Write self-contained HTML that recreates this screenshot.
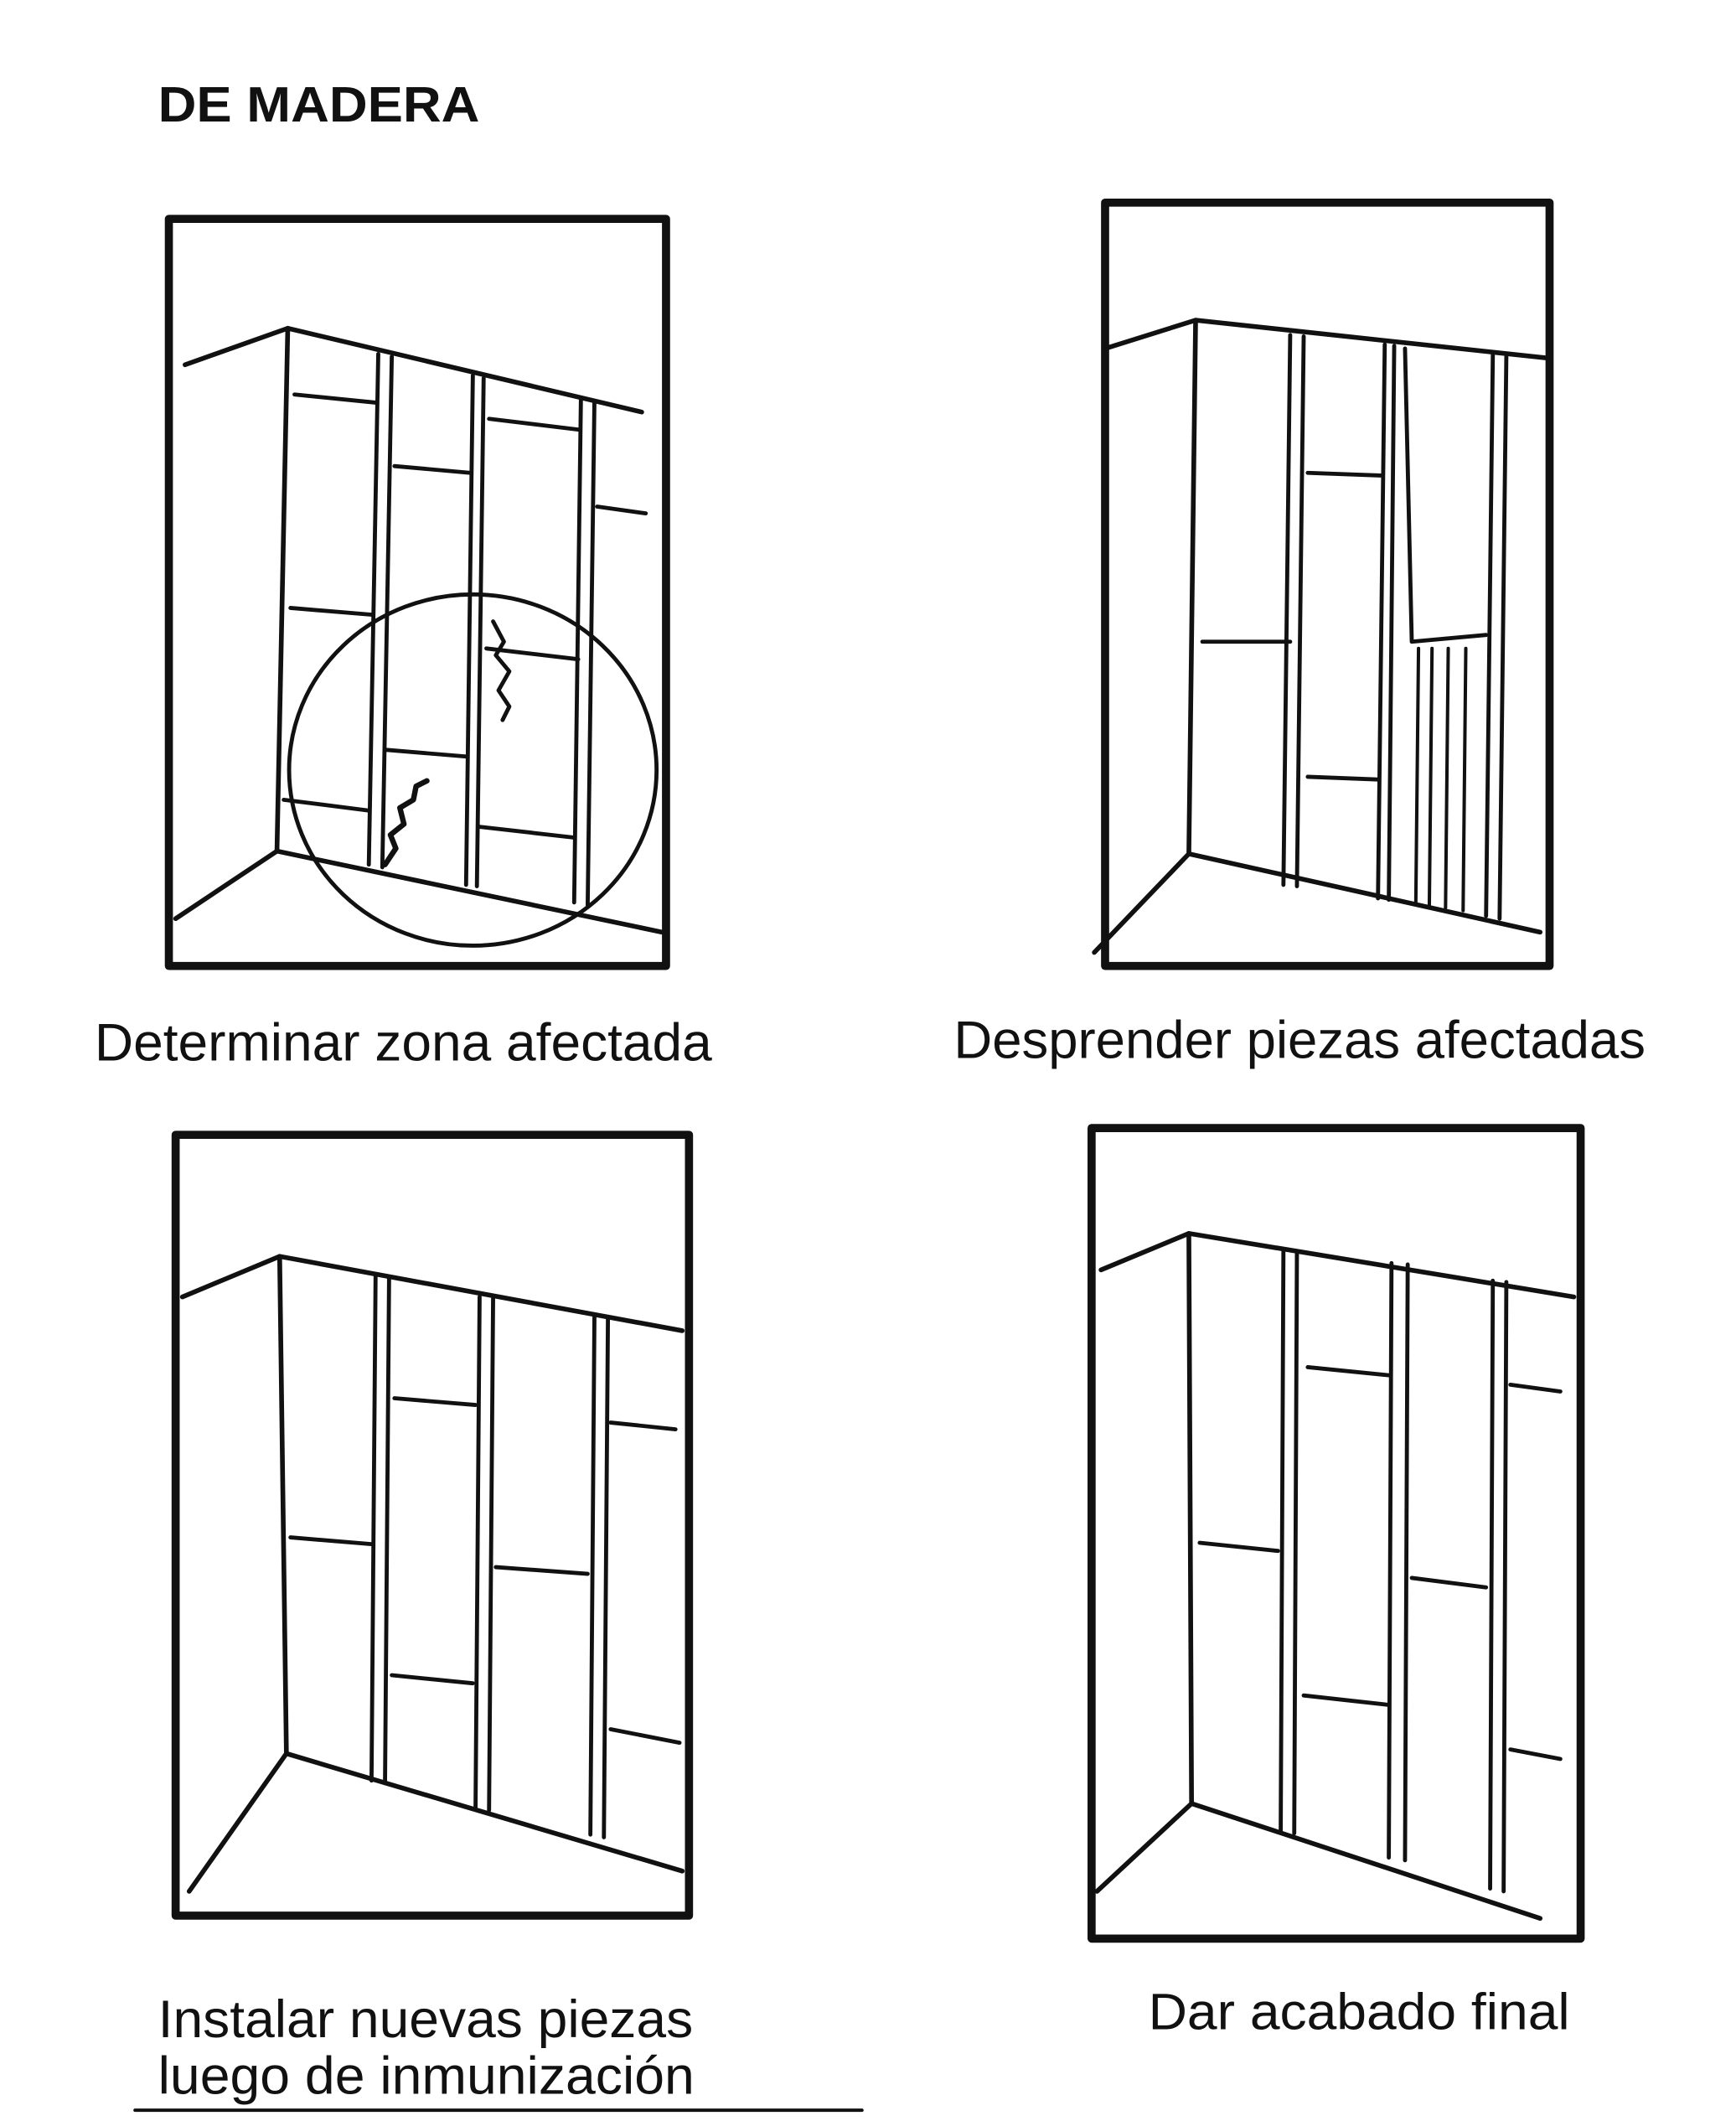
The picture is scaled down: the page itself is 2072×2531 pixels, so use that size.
<!DOCTYPE html>
<html><head><meta charset="utf-8"><style>
html,body{margin:0;padding:0;background:#fff;}
svg{display:block;}
text{font-family:"Liberation Sans",sans-serif;fill:#111;}
</style></head><body>
<svg width="2072" height="2531" viewBox="0 0 1285 1570" preserveAspectRatio="none" xmlns="http://www.w3.org/2000/svg">
<g stroke="#111" fill="none" stroke-linecap="round" stroke-linejoin="round">
<!-- Panel 1 -->
<rect x="125" y="162" width="368" height="553" stroke-width="6"/>
<polyline points="137,270 213,243 475,305" stroke-width="3.5"/>
<line x1="213" y1="243" x2="205" y2="630" stroke-width="3.5"/>
<polyline points="130,680 205,630 490,690" stroke-width="3.5"/>
<line x1="280" y1="262" x2="273" y2="640" stroke-width="3"/>
<line x1="290" y1="264" x2="283" y2="642" stroke-width="3"/>
<line x1="350" y1="278" x2="345" y2="655" stroke-width="3"/>
<line x1="358" y1="280" x2="353" y2="656" stroke-width="3"/>
<line x1="430" y1="295" x2="425" y2="668" stroke-width="3"/>
<line x1="440" y1="297" x2="435" y2="670" stroke-width="3"/>
<line x1="218" y1="292" x2="278" y2="298" stroke-width="3"/>
<line x1="292" y1="345" x2="348" y2="350" stroke-width="3"/>
<line x1="362" y1="310" x2="428" y2="318" stroke-width="3"/>
<line x1="442" y1="375" x2="478" y2="380" stroke-width="3"/>
<line x1="215" y1="450" x2="275" y2="455" stroke-width="3"/>
<line x1="285" y1="555" x2="345" y2="560" stroke-width="3"/>
<line x1="360" y1="480" x2="428" y2="488" stroke-width="3"/>
<line x1="210" y1="592" x2="273" y2="600" stroke-width="3"/>
<line x1="355" y1="612" x2="425" y2="620" stroke-width="3"/>
<ellipse cx="350" cy="570" rx="136" ry="130" stroke-width="3"/>
<path d="M365,460 l8,15 -6,10 10,12 -8,14 8,12 -5,10" stroke-width="3"/>
<path d="M285,640 l8,-12 -4,-10 10,-8 -3,-12 10,-6 2,-10 8,-4" stroke-width="4"/>
<!-- Panel 2 -->
<rect x="818" y="150" width="329" height="565" stroke-width="6"/>
<polyline points="818,258 885,237 1145,265" stroke-width="3.5"/>
<line x1="885" y1="237" x2="880" y2="632" stroke-width="3.5"/>
<polyline points="810,705 880,632 1140,690" stroke-width="3.5"/>
<line x1="955" y1="248" x2="950" y2="655" stroke-width="3"/>
<line x1="965" y1="249" x2="960" y2="656" stroke-width="3"/>
<line x1="1025" y1="255" x2="1020" y2="665" stroke-width="3"/>
<line x1="1032" y1="256" x2="1028" y2="666" stroke-width="3"/>
<line x1="1105" y1="263" x2="1100" y2="678" stroke-width="3"/>
<line x1="1115" y1="264" x2="1110" y2="680" stroke-width="3"/>
<line x1="890" y1="475" x2="955" y2="475" stroke-width="3"/>
<line x1="968" y1="350" x2="1022" y2="352" stroke-width="3"/>
<line x1="968" y1="575" x2="1020" y2="577" stroke-width="3"/>
<polyline points="1040,258 1045,475 1100,470" stroke-width="3"/>
<line x1="1050" y1="480" x2="1048" y2="668" stroke-width="2.5"/>
<line x1="1060" y1="480" x2="1058" y2="670" stroke-width="2.5"/>
<line x1="1072" y1="480" x2="1070" y2="672" stroke-width="2.5"/>
<line x1="1085" y1="480" x2="1083" y2="674" stroke-width="2.5"/>
<!-- Panel 3 -->
<rect x="130" y="840" width="380" height="578" stroke-width="6"/>
<polyline points="135,960 207,930 505,985" stroke-width="3.5"/>
<line x1="207" y1="930" x2="212" y2="1298" stroke-width="3.5"/>
<polyline points="140,1400 212,1298 505,1385" stroke-width="3.5"/>
<line x1="278" y1="945" x2="275" y2="1318" stroke-width="3"/>
<line x1="288" y1="946" x2="285" y2="1320" stroke-width="3"/>
<line x1="355" y1="960" x2="352" y2="1338" stroke-width="3"/>
<line x1="365" y1="961" x2="362" y2="1340" stroke-width="3"/>
<line x1="440" y1="975" x2="437" y2="1358" stroke-width="3"/>
<line x1="450" y1="976" x2="447" y2="1360" stroke-width="3"/>
<line x1="292" y1="1035" x2="352" y2="1040" stroke-width="3"/>
<line x1="452" y1="1053" x2="500" y2="1058" stroke-width="3"/>
<line x1="215" y1="1138" x2="275" y2="1143" stroke-width="3"/>
<line x1="367" y1="1160" x2="435" y2="1165" stroke-width="3"/>
<line x1="290" y1="1240" x2="350" y2="1246" stroke-width="3"/>
<line x1="452" y1="1280" x2="503" y2="1290" stroke-width="3"/>
<!-- Panel 4 -->
<rect x="808" y="835" width="362" height="600" stroke-width="6"/>
<polyline points="815,940 880,913 1165,960" stroke-width="3.5"/>
<line x1="880" y1="913" x2="882" y2="1335" stroke-width="3.5"/>
<polyline points="812,1400 882,1335 1140,1420" stroke-width="3.5"/>
<line x1="950" y1="925" x2="948" y2="1355" stroke-width="3"/>
<line x1="960" y1="926" x2="958" y2="1357" stroke-width="3"/>
<line x1="1030" y1="935" x2="1028" y2="1375" stroke-width="3"/>
<line x1="1042" y1="936" x2="1040" y2="1377" stroke-width="3"/>
<line x1="1105" y1="948" x2="1103" y2="1398" stroke-width="3"/>
<line x1="1115" y1="949" x2="1113" y2="1400" stroke-width="3"/>
<line x1="968" y1="1012" x2="1028" y2="1018" stroke-width="3"/>
<line x1="1118" y1="1025" x2="1155" y2="1030" stroke-width="3"/>
<line x1="888" y1="1142" x2="946" y2="1148" stroke-width="3"/>
<line x1="1045" y1="1168" x2="1100" y2="1175" stroke-width="3"/>
<line x1="965" y1="1255" x2="1028" y2="1262" stroke-width="3"/>
<line x1="1118" y1="1295" x2="1155" y2="1302" stroke-width="3"/>
<!-- underline -->
<line x1="100" y1="1562" x2="638" y2="1562" stroke-width="2.5"/>
</g>
<text x="117" y="90" font-size="37" font-weight="bold" textLength="238" lengthAdjust="spacingAndGlyphs">DE MADERA</text>
<text x="70" y="785" font-size="39" textLength="457" lengthAdjust="spacingAndGlyphs">Determinar zona afectada</text>
<text x="706" y="783" font-size="39" textLength="512" lengthAdjust="spacingAndGlyphs">Desprender piezas afectadas</text>
<text x="117" y="1508" font-size="39" textLength="396" lengthAdjust="spacingAndGlyphs">Instalar nuevas piezas</text>
<text x="117" y="1550" font-size="39" textLength="397" lengthAdjust="spacingAndGlyphs">luego de inmunización</text>
<text x="850" y="1502" font-size="38" textLength="312" lengthAdjust="spacingAndGlyphs">Dar acabado final</text>
</svg>
</body></html>
